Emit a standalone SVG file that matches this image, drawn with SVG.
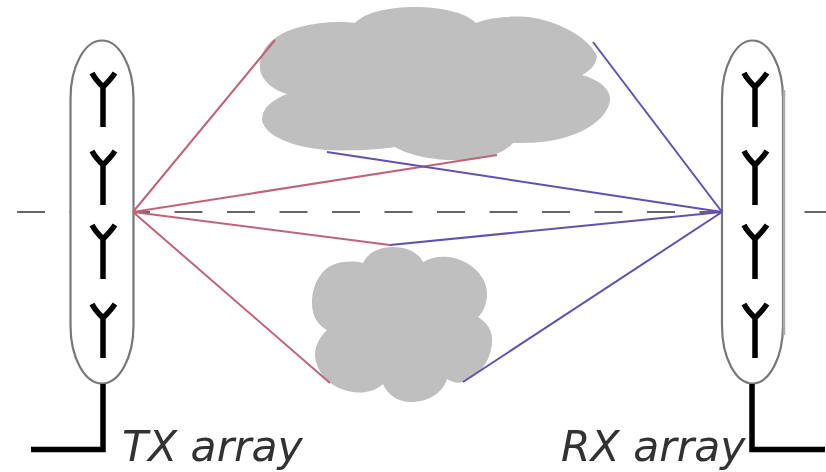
<svg xmlns="http://www.w3.org/2000/svg" width="826" height="472" viewBox="0 0 826 472">
<style>
.cloud{fill:#bfbfbf;stroke:none}
.pill{fill:#fff;stroke:#777;stroke-width:2.2}
.ant{fill:none;stroke:#000;stroke-width:5.5}
.feed{fill:none;stroke:#000;stroke-width:5.5}
.tx{stroke:#c0647a;stroke-width:2;fill:none}
.rx{stroke:#6450b4;stroke-width:2;fill:none}
text{font-family:"DejaVu Sans",sans-serif;font-style:italic;font-size:42.5px;fill:#333}
</style>
<defs>
<filter id="soft" x="0" y="0" width="100%" height="100%"><feGaussianBlur stdDeviation="0.6"/></filter>
<g id="y"><path class="ant" d="M92 73C95 79 100 84 103 87C106 84 111 79 115 73M103 85V127"/></g>
</defs>
<rect width="826" height="472" fill="#fff"/>
<g filter="url(#soft)">
<g id="axis"><path d="M17 212H826" stroke="#666" stroke-width="2" stroke-dasharray="28 24.5" fill="none"/></g>
<g id="cloud-top">
<path class="cloud" d="M287 94C268 88 258 76 260 62C263 45 275 34 300 27C318 22 340 21 355 23C365 12 390 7 415 7C440 7 465 12 476 23C490 17 515 15 535 18C565 24 590 40 597 56C596 65 590 71 582 75C600 80 611 90 610 100C608 118 585 134 555 140C540 143 525 143 513 143C505 152 490 158 470 160C440 162 410 156 395 147C375 150 350 151 325 150C295 147 265 137 262 120C262 108 272 100 287 94Z"/>
</g>
<g id="cloud-bottom">
<path class="cloud" d="M363 263C368 252 380 247 393 247C406 247 418 252 423 262C431 257 440 256 449 257C470 260 487 276 487 293C487 303 484 311 478 317C488 323 493 332 492 342C491 361 480 375 463 382C458 384 452 382 447 379C443 393 428 402 411 402C397 402 387 394 383 384C375 391 364 394 353 392C331 389 316 373 315 355C315 345 320 337 327 330C317 325 312 315 312 303C312 284 322 268 335 264C345 261 355 261 363 263Z"/>
</g>
<g id="tx-array">
<rect class="pill" x="70.500" y="40.500" width="63" height="343" rx="31.500" ry="58"/>
<use href="#y"/>
<use href="#y" y="78"/>
<use href="#y" y="152"/>
<use href="#y" y="231"/>
<path class="feed" d="M103 384V449.500H31"/>
<text x="122" y="461">TX array</text>
</g>
<g id="rx-array">
<rect class="pill" x="722" y="40.500" width="61" height="343" rx="30.500" ry="58"/>
<path d="M784 90V335" stroke="#aaa" stroke-width="2.500" fill="none"/>
<use href="#y" x="652"/>
<use href="#y" x="652" y="78"/>
<use href="#y" x="652" y="152"/>
<use href="#y" x="652" y="231"/>
<path class="feed" d="M752 384V449.500H825"/>
<text x="561" y="461">RX array</text>
</g>
<g id="connectors">
<path class="tx" d="M133 212L275 40M133 212L497 155M133 212L390 245M133 212L330 383"/>
<path class="rx" d="M722 212L593 42M722 212L327 152M722 212L390 245M722 212L463 382"/>
</g>
</g>
</svg>
